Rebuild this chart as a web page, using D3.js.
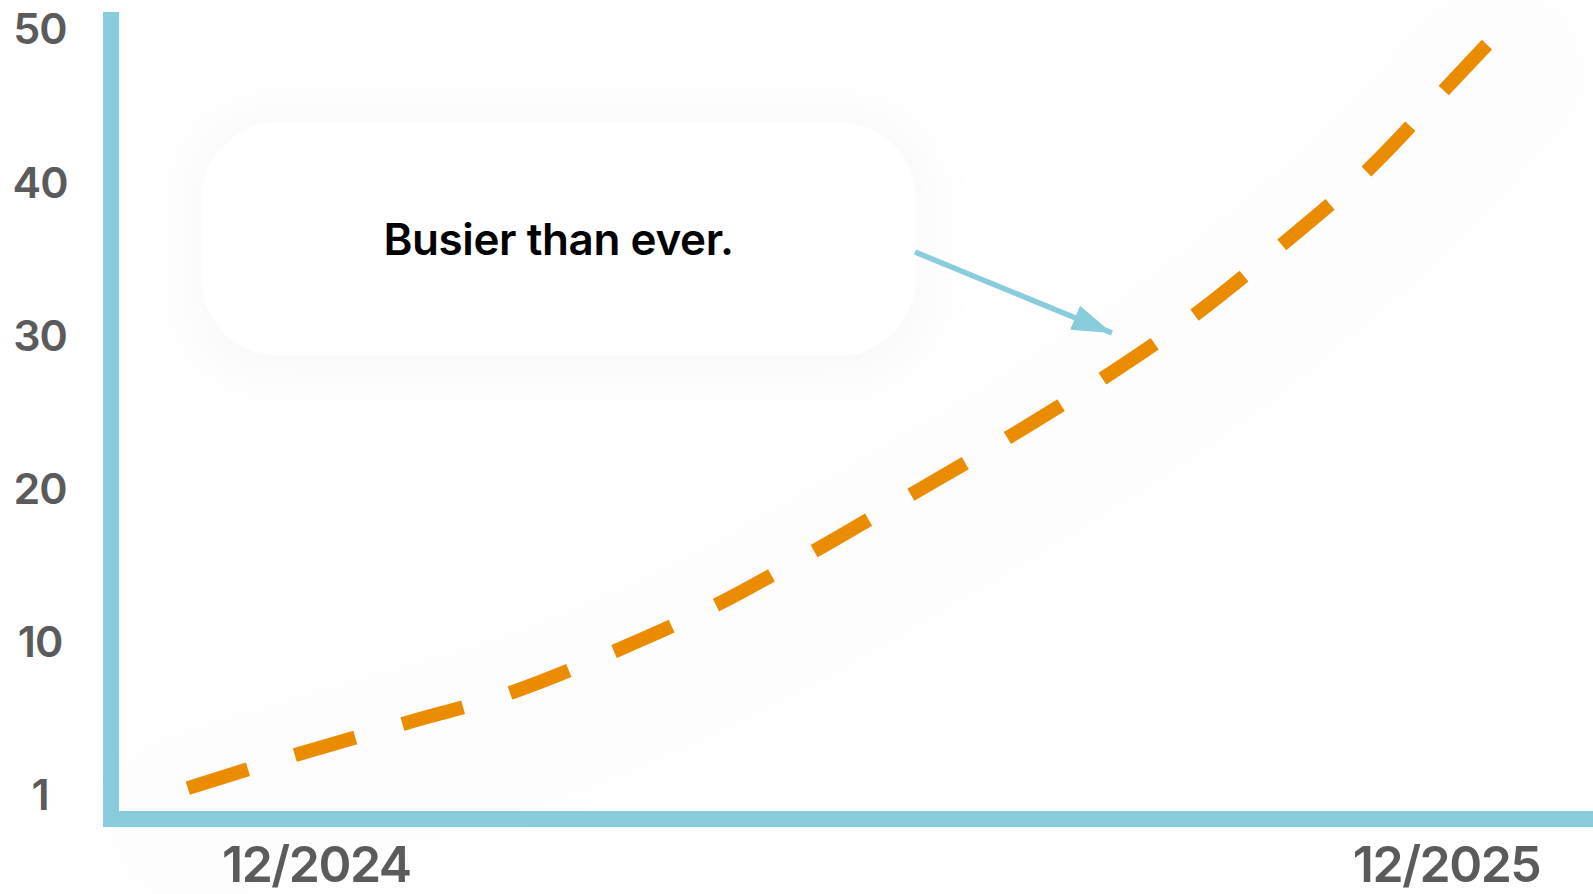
<!DOCTYPE html>
<html>
<head>
<meta charset="utf-8">
<script src="https://cdn.jsdelivr.net/npm/d3@7/dist/d3.min.js"></script>
<style>
  html, body { margin: 0; padding: 0; background: #fff; }
  #chart { width: 1593px; height: 894px; }
  text { font-family: Inter, "Open Sans", sans-serif; }
</style>
</head>
<body>
<div id="chart"></div>
<script>
// data (months from 12/2024, value)
const months = [-1.36, -0.22, 0.96, 2.09, 3.18, 4.25, 5.28, 6.30, 7.33, 8.35, 9.32, 10.24, 11.16, 11.97, 12.45];
const values = [0.42, 2.58, 4.67, 6.69, 9.37, 12.37, 15.85, 19.50, 23.22, 27.14, 31.25, 35.80, 40.70, 45.92, 49.05];

const yTicks = [0, 10, 20, 30, 40, 50];
const yTickLabels = ["1", "10", "20", "30", "40", "50"];
const xTicks = [0, 12];
const xTickLabels = ["12/2024", "12/2025"];

const note = "Busier than ever.";

const width = 1593, height = 894;
const blue = "#89ccdb", orange = "#eb8c00", grey = "#5b5b5b";

const svg = d3.select("#chart").append("svg")
    .attr("width", width)
    .attr("height", height);

const defs = svg.append("defs");
defs.append("filter").attr("id", "soft")
    .attr("x", "-50%").attr("y", "-50%").attr("width", "200%").attr("height", "200%")
  .append("feGaussianBlur").attr("stdDeviation", 18);
defs.append("filter").attr("id", "boxshadow")
    .attr("x", "-30%").attr("y", "-60%").attr("width", "160%").attr("height", "220%")
  .append("feGaussianBlur").attr("stdDeviation", 26);
defs.append("marker")
    .attr("id", "head")
    .attr("viewBox", "0 0 40 30")
    .attr("refX", 40).attr("refY", 15)
    .attr("markerUnits", "userSpaceOnUse")
    .attr("markerWidth", 40).attr("markerHeight", 30)
    .attr("orient", "auto")
  .append("path")
    .attr("d", "M0,2L40,15L0,28z")
    .attr("fill", blue);

// scales
const x = d3.scaleLinear().domain([-2.26, 13.56]).range([103, 1593]);
const y = d3.scaleLinear().domain([0, 50]).range([794.5, 28.5]);

const data = months.map((m, i) => ({ m, v: values[i] }));

const line = d3.line()
    .x(d => x(d.m))
    .y(d => y(d.v))
    .curve(d3.curveMonotoneX);

// very faint glow under the line
svg.append("path")
    .datum(data)
    .attr("d", line)
    .attr("transform", "translate(8,30)")
    .attr("fill", "none")
    .attr("stroke", "#000")
    .attr("stroke-opacity", 0.009)
    .attr("stroke-width", 190)
    .attr("stroke-linecap", "round")
    .attr("filter", "url(#soft)");

// annotation box with soft shadow
const box = { x0: 201, y0: 122, x1: 916, y1: 356, r: 78 };
svg.append("rect")
    .attr("x", box.x0 - 14).attr("y", box.y0 - 12)
    .attr("width", box.x1 - box.x0 + 28).attr("height", box.y1 - box.y0 + 36)
    .attr("rx", box.r).attr("fill", "#000").attr("fill-opacity", 0.025)
    .attr("filter", "url(#boxshadow)");
svg.append("rect")
    .attr("x", box.x0).attr("y", box.y0)
    .attr("width", box.x1 - box.x0).attr("height", box.y1 - box.y0)
    .attr("rx", box.r).attr("fill", "#fff");
svg.append("text")
    .attr("x", (box.x0 + box.x1) / 2)
    .attr("y", (box.y0 + box.y1) / 2)
    .attr("dy", "0.36em")
    .attr("text-anchor", "middle")
    .style("font-size", "44px")
    .style("font-weight", 600)
    .style("letter-spacing", "-0.4px")
    .attr("fill", "#000")
    .text(note);

// arrow
svg.append("line")
    .attr("x1", 915).attr("y1", 252)
    .attr("x2", 1112).attr("y2", 333)
    .attr("stroke", blue)
    .attr("stroke-width", 5.5)
    .attr("marker-end", "url(#head)");

// dashed line
svg.append("path")
    .datum(data)
    .attr("d", line)
    .attr("fill", "none")
    .attr("stroke", orange)
    .attr("stroke-width", 14)
    .attr("stroke-dasharray", "63 49");

// axis spines
svg.append("line")
    .attr("x1", 111).attr("x2", 111).attr("y1", 12).attr("y2", 827)
    .attr("stroke", blue).attr("stroke-width", 16);
svg.append("line")
    .attr("x1", 103).attr("x2", width).attr("y1", 819).attr("y2", 819)
    .attr("stroke", blue).attr("stroke-width", 16);

// y tick labels
const yAxis = svg.append("g")
    .attr("transform", "translate(40,0)")
    .call(d3.axisLeft(y).tickValues(yTicks).tickFormat((d, i) => yTickLabels[i]).tickSize(0).tickPadding(0));
yAxis.select(".domain").remove();
yAxis.selectAll("text")
    .attr("text-anchor", "middle")
    .attr("x", 0)
    .attr("dy", "0.36em")
    .attr("fill", grey)
    .style("font-family", "Inter, sans-serif")
    .style("font-size", "43px")
    .style("font-weight", 600)
    .style("letter-spacing", "-1px");

// x tick labels
const xAxis = svg.append("g")
    .attr("transform", "translate(0,845)")
    .call(d3.axisBottom(x).tickValues(xTicks).tickFormat((d, i) => xTickLabels[i]).tickSize(0).tickPadding(0));
xAxis.select(".domain").remove();
xAxis.selectAll("text")
    .attr("y", 0)
    .attr("dy", "0.73em")
    .attr("fill", grey)
    .style("font-family", "Inter, sans-serif")
    .style("font-size", "50px")
    .style("font-weight", 600)
    .style("letter-spacing", "-1.5px");
</script>
</body>
</html>
